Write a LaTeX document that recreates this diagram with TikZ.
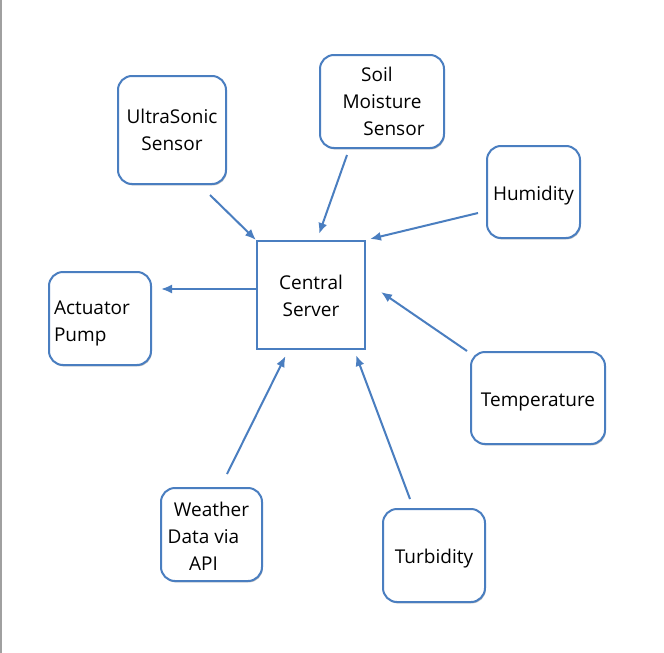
\documentclass[tikz,border=0pt]{standalone}
\usepackage{fontspec}
\setmainfont{Open Sans}
\usetikzlibrary{arrows.meta,shadows}
\definecolor{bblue}{RGB}{74,126,192}
\definecolor{lgray}{RGB}{160,160,160}
\newcommand\btext[2][3pt]{\raisebox{-#1}[\height][\depth]{\begin{tabular}{@{}c@{}}#2\end{tabular}}}
\newcommand\ltext[2][3pt]{\raisebox{-#1}[\height][\depth]{\begin{tabular}{@{}l@{}}#2\end{tabular}}}
\tikzset{
  box/.style={draw=bblue, line width=2pt, rounded corners=14pt, fill=white,
    inner sep=0pt, font=\fontsize{19}{27}\selectfont,
    drop shadow={shadow xshift=0.8pt, shadow yshift=-1.4pt, opacity=0.25, fill=black}},
  serverbox/.style={draw=bblue, line width=2pt, fill=white, inner sep=0pt,
    font=\fontsize{19}{27}\selectfont},
  arr/.style={draw=bblue, line width=2pt, -{Latex[length=11pt,width=9pt]}}
}
\begin{document}
\begin{tikzpicture}[x=1pt,y=-1pt]
\useasboundingbox (0,0) rectangle (664,653);
\fill[white] (0,0) rectangle (664,653);
\draw[lgray, line width=1.5pt] (0.75,0) -- (0.75,653);

\node[box, minimum width=108pt, minimum height=108pt] (us) at (172,130) {\btext[2pt]{UltraSonic\\Sensor}};
\node[box, minimum width=124pt, minimum height=93pt] (sm) at (382,101.5)
  {\btext[2pt]{\mbox{Soil\hspace{10pt}}\\Moisture\\\mbox{\hspace{24pt}Sensor}}};
\node[box, minimum width=93pt, minimum height=92pt] (hu) at (533.5,192) {\btext[3.5pt]{Humidity}};
\node[serverbox, minimum width=108pt, minimum height=108pt] (cs) at (311,295) {\btext[2.5pt]{Central\\Server}};
\node[box, minimum width=102pt, minimum height=93pt, text width=92pt] (ac) at (100,318.5) {\ltext[4pt]{Actuator\\Pump}};
\node[box, minimum width=134pt, minimum height=92pt] (te) at (538,398) {\btext[3pt]{Temperature}};
\node[box, minimum width=101pt, minimum height=93pt] (we) at (211.5,534.5)
  {\btext[4pt]{Weather\\\mbox{Data via\hspace{16pt}}\\\mbox{API\hspace{16pt}}}};
\node[box, minimum width=102pt, minimum height=93pt] (tu) at (434,555.5) {\btext[2.5pt]{Turbidity}};

\draw[arr] ([shift={(-17,10)}]us.south east) -- (cs.north west);
\draw[arr] ([shift={(-35,6)}]sm.south) -- ([shift={(8,-6)}]cs.north);
\draw[arr] ([shift={(-8,21)}]hu.west) -- ([shift={(4,-1)}]cs.north east);
\draw[arr] ([shift={(0,-6)}]cs.west) -- ([shift={(9,-29.5)}]ac.east);
\draw[arr] ([shift={(-3,0)}]te.north west) -- ([shift={(15,-3)}]cs.east);
\draw[arr] ([shift={(15.5,-13)}]we.north) -- ([shift={(-25.5,6)}]cs.south);
\draw[arr] ([shift={(-24,-9)}]tu.north) -- ([shift={(-10,5)}]cs.south east);
\end{tikzpicture}
\end{document}
